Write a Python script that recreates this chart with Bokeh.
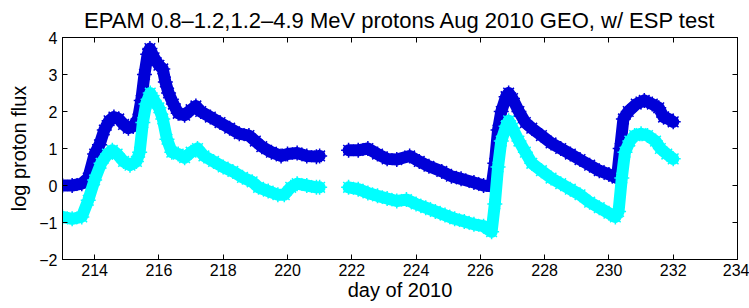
from bokeh.plotting import figure
from bokeh.models import LinearAxis, FixedTicker, Range1d, CustomLabelingPolicy
from bokeh.embed import file_html
from bokeh.resources import INLINE

# ---- data ----
blue1_day = [213.0, 213.3, 213.6, 213.8, 214.0, 214.15, 214.3, 214.45, 214.6, 214.75, 214.9, 215.05,
             215.2, 215.35, 215.45, 215.55, 215.65, 215.72, 215.85, 216.0, 216.12, 216.2, 216.3, 216.45,
             216.6, 216.8, 217.0, 217.15, 217.3, 217.6, 217.9, 218.2, 218.5, 218.8, 219.0, 219.2,
             219.5, 219.8, 220.0, 220.3, 220.6, 220.9, 221.0]
blue1_val = [0.0, 0.0, 0.05, 0.2, 0.85, 1.1, 1.5, 1.75, 1.85, 1.8, 1.65, 1.55,
             1.6, 1.8, 2.3, 3.0, 3.55, 3.7, 3.45, 3.25, 3.15, 2.8, 2.5, 2.2,
             1.95, 1.9, 2.05, 2.15, 2.0, 1.85, 1.7, 1.55, 1.4, 1.35, 1.2, 1.05,
             0.9, 0.8, 0.85, 0.88, 0.8, 0.78, 0.8]

blue2_day = [221.9, 222.2, 222.5, 222.8, 223.1, 223.4, 223.8, 224.1, 224.4, 224.8, 225.1, 225.4,
             225.8, 226.1, 226.35, 226.45, 226.55, 226.65, 226.8, 226.88, 227.0, 227.2, 227.4, 227.6,
             227.9, 228.2, 228.5, 228.8, 229.1, 229.4, 229.7, 230.0, 230.25, 230.35, 230.45, 230.6,
             230.85, 231.1, 231.35, 231.55, 231.7, 231.85, 232.0]
blue2_val = [0.95, 0.95, 1.0, 0.85, 0.72, 0.7, 0.8, 0.65, 0.52, 0.38, 0.25, 0.18,
             0.08, 0.0, -0.02, 0.6, 1.5, 2.0, 2.4, 2.5, 2.35, 2.0, 1.7, 1.55,
             1.35, 1.15, 1.0, 0.85, 0.7, 0.55, 0.4, 0.3, 0.2, 1.0, 1.8, 2.0,
             2.2, 2.3, 2.2, 2.1, 1.85, 1.8, 1.72]

cyan1_day = [213.0, 213.3, 213.6, 213.8, 214.0, 214.2, 214.4, 214.55, 214.7, 214.9, 215.1, 215.3,
             215.4, 215.5, 215.6, 215.73, 215.85, 216.0, 216.12, 216.25, 216.4, 216.6, 216.8, 217.0,
             217.2, 217.4, 217.7, 218.0, 218.3, 218.6, 218.9, 219.1, 219.4, 219.7, 219.9, 220.1,
             220.3, 220.6, 220.9, 221.0]
cyan1_val = [-0.85, -0.9, -0.85, -0.4, 0.15, 0.6, 0.85, 0.95, 0.85, 0.65, 0.55, 0.65,
             0.9, 1.7, 2.2, 2.5, 2.3, 2.1, 1.8, 1.25, 0.9, 0.85, 0.75, 0.9,
             1.0, 0.8, 0.65, 0.5, 0.38, 0.22, 0.1, -0.05, -0.15, -0.25, -0.25, -0.05,
             0.05, 0.0, -0.05, -0.05]

cyan2_day = [221.9, 222.2, 222.5, 222.8, 223.1, 223.4, 223.7, 224.0, 224.3, 224.6, 224.9, 225.2,
             225.5, 225.8, 226.1, 226.35, 226.45, 226.55, 226.65, 226.8, 226.88, 227.0, 227.2, 227.4,
             227.6, 227.9, 228.2, 228.5, 228.8, 229.1, 229.4, 229.7, 230.0, 230.2, 230.3, 230.4,
             230.5, 230.65, 230.8, 231.0, 231.2, 231.45, 231.6, 231.8, 232.0]
cyan2_val = [-0.05, -0.1, -0.2, -0.28, -0.35, -0.42, -0.38, -0.5, -0.6, -0.7, -0.8, -0.9,
             -0.97, -1.05, -1.1, -1.25, -0.5, 0.5, 1.2, 1.6, 1.75, 1.55, 1.2, 0.9,
             0.6, 0.4, 0.2, 0.05, -0.1, -0.25, -0.45, -0.6, -0.75, -0.85, -0.7, 0.2,
             0.9, 1.2, 1.35, 1.4, 1.35, 1.2, 1.0, 0.85, 0.72]

x_ticks = [214, 216, 218, 220, 222, 224, 226, 228, 230, 232, 234]
y_ticks = [-2, -1, 0, 1, 2, 3, 4]
y_tick_labels = {-2: "\u22122", -1: "\u22121", 0: "0", 1: "1", 2: "2", 3: "3", 4: "4"}

BLUE = "#0000d8"
CYAN = "#00ffff"
FONT = "Liberation Sans"

p = figure(width=749, height=308, output_backend="svg", toolbar_location=None,
           x_range=Range1d(213, 234), y_range=Range1d(-2, 4),
           min_border_left=62, min_border_right=12, min_border_top=37, min_border_bottom=49)
p.title.text = "EPAM 0.8\u20131.2,1.2\u20134.9 MeV protons Aug 2010 GEO, w/ ESP test"
p.title.align = "center"
p.title.text_font = FONT
p.title.text_font_size = "22px"
p.title.text_font_style = "normal"
p.title.text_color = "black"
p.title.offset = 0
p.title.standoff = 10

p.grid.visible = False
p.outline_line_color = "black"
p.outline_line_width = 1
p.background_fill_color = "white"
p.border_fill_color = "white"

for ax in (p.xaxis[0], p.yaxis[0]):
    ax.major_tick_in = 5
    ax.major_tick_out = 0
    ax.minor_tick_line_color = None
    ax.axis_line_color = "black"
    ax.major_tick_line_color = "black"
    ax.major_label_text_font = FONT
    ax.major_label_text_font_size = "16px"
    ax.major_label_text_color = "black"
    ax.axis_label_text_font = FONT
    ax.axis_label_text_font_size = "20px"
    ax.axis_label_text_font_style = "normal"
    ax.axis_label_text_color = "black"

p.xaxis[0].ticker = FixedTicker(ticks=x_ticks)
p.yaxis[0].ticker = FixedTicker(ticks=y_ticks)
p.yaxis[0].major_label_overrides = y_tick_labels
p.xaxis[0].axis_label = "day of 2010"
p.yaxis[0].axis_label = "log proton flux"
p.xaxis[0].axis_label_standoff = 0
p.yaxis[0].axis_label_standoff = 6
p.xaxis[0].major_label_standoff = 4
p.yaxis[0].major_label_standoff = 5

# tick marks only (no labels) on the top and right edges, as in the reference
top = LinearAxis(ticker=FixedTicker(ticks=x_ticks), major_tick_in=5, major_tick_out=0,
                 minor_tick_line_color=None, major_label_text_font_size="0px",
                 major_label_policy=CustomLabelingPolicy(code="return []"),
                 major_label_standoff=0, axis_line_color="black")
right = LinearAxis(ticker=FixedTicker(ticks=y_ticks), major_tick_in=5, major_tick_out=0,
                   minor_tick_line_color=None, major_label_text_font_size="0px",
                   major_label_policy=CustomLabelingPolicy(code="return []"),
                   major_label_standoff=0, axis_line_color="black")
p.add_layout(top, "above")
p.add_layout(right, "right")

for d, v, c in ((blue1_day, blue1_val, BLUE), (blue2_day, blue2_val, BLUE),
                (cyan1_day, cyan1_val, CYAN), (cyan2_day, cyan2_val, CYAN)):
    p.line(d, v, line_color=c, line_width=12, line_join="round", line_cap="round")
    p.scatter(d, v, marker="asterisk", size=15, line_color=c, line_width=1.5)

open("out.html", "w").write(file_html(p, INLINE))
